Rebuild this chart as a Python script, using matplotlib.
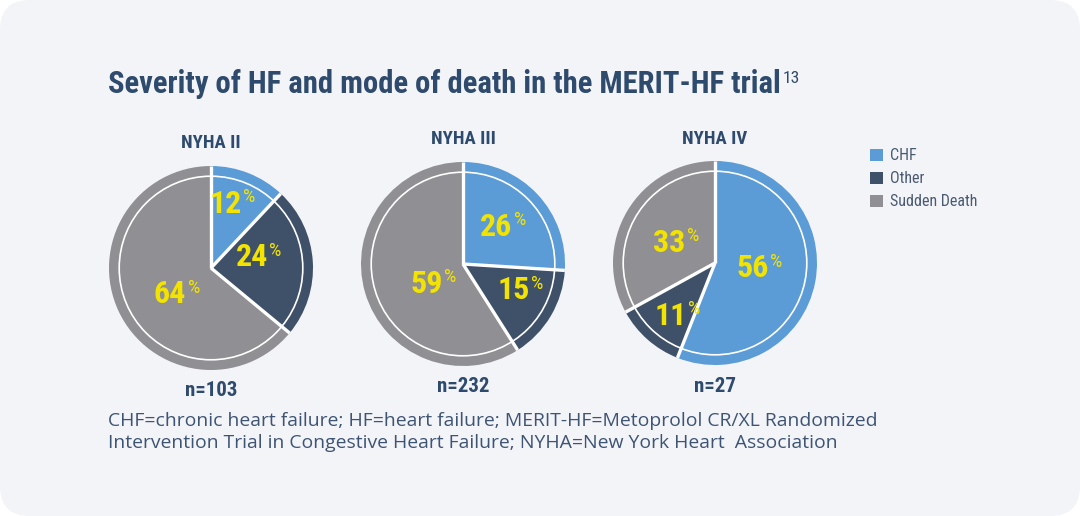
"""MERIT-HF mode of death by NYHA class: three pies on a rounded panel."""
import numpy as np
import matplotlib
matplotlib.use("Agg")
import matplotlib.pyplot as plt
from matplotlib import font_manager
from matplotlib.patches import FancyBboxPatch, Circle, Patch

# ---------------------------------------------------------------- data
groups = ["NYHA II", "NYHA III", "NYHA IV"]
n_patients = [103, 232, 27]
causes = ["CHF", "Other", "Sudden Death"]
chf = [12, 26, 56]
other = [24, 15, 11]
sudden = [64, 59, 33]

TITLE = "Severity of HF and mode of death in the MERIT-HF trial"
TITLE_REF = "13"
FOOT = ("CHF=chronic heart failure; HF=heart failure; MERIT-HF=Metoprolol CR/XL Randomized\n"
        "Intervention Trial in Congestive Heart Failure; NYHA=New York Heart  Association")

# ---------------------------------------------------------------- style
W, H = 1080, 516
PANEL_C = "#f3f4f8"
NAVY = "#2e4a6c"
COLORS = ["#5b9bd6", "#3f5069", "#8f8f94"]
YELLOW = "#f3e300"

_names = {f.name for f in font_manager.fontManager.ttflist}
_dv_cond = any(f.name == "DejaVu Sans" and f.stretch == "condensed"
               for f in font_manager.fontManager.ttflist)
if "Roboto Condensed" in _names:
    COND, STRETCH = "Roboto Condensed", "normal"
elif "Liberation Sans Narrow" in _names:
    COND, STRETCH = "Liberation Sans Narrow", "normal"
elif _dv_cond:
    COND, STRETCH = "DejaVu Sans", "condensed"
else:
    COND, STRETCH = "Roboto", "normal"
FOOT_FONT = "Open Sans" if "Open Sans" in _names else "DejaVu Sans"

# pie centres / radius in pixels (y measured from top)
CENTERS = [(211, 268), (463, 264), (715, 263)]
RADIUS = 102
HEAD_Y = [143, 139, 139]
N_Y = [390, 386, 386]
# label placement: (angle deg, fraction of radius) per wedge
LABEL_POS = [
    [(72, 0.66), (13, 0.47), (-143, 0.43)],
    [(43.5, 0.53), (-25, 0.61), (-147, 0.36)],
    [(-7, 0.43), (-126, 0.64), (153, 0.44)],
]

fig = plt.figure(figsize=(W / 100, H / 100), dpi=100, facecolor="white")
ax = fig.add_axes([0, 0, 1, 1])
ax.add_patch(FancyBboxPatch((0, 0), W, H, boxstyle="round,pad=0,rounding_size=30",
                            fc=PANEL_C, ec="none", zorder=0))
renderer = fig.canvas.get_renderer()


def py(y):
    return H - y


def fit(text, width_px, max_size):
    """shrink a text so that it is no wider than width_px"""
    w = text.get_window_extent(renderer).width
    text.set_fontsize(min(max_size, text.get_fontsize() * width_px / w))


def cond_text(x, y, s, size, **kw):
    return ax.text(x, py(y), s, fontsize=size, family=COND, fontstretch=STRETCH, **kw)


def pct_label(x, y, value):
    t = cond_text(x - 6, y, f"{value}", 23, ha="center", va="center",
                  fontweight="bold", color=YELLOW, zorder=5)
    ax.annotate("%", xy=(1.0, 1.02), xycoords=t, xytext=(1, 0), textcoords="offset points",
                ha="left", va="top", fontsize=14, family=COND, fontstretch=STRETCH,
                color=YELLOW, zorder=5)


for i, g in enumerate(groups):
    cx, cy = CENTERS[i]
    vals = [chf[i], other[i], sudden[i]]
    wedges, _ = ax.pie(vals, colors=COLORS, startangle=90, counterclock=False,
                       center=(cx, py(cy)), radius=RADIUS, frame=True,
                       wedgeprops=dict(linewidth=0))
    # white separators between wedges only (no outer rim)
    for w in wedges:
        a = np.deg2rad(w.theta1)
        ax.plot([cx, cx + RADIUS * np.cos(a)], [py(cy), py(cy) + RADIUS * np.sin(a)],
                color="white", lw=2.4, solid_capstyle="butt", zorder=3)
    ax.add_patch(Circle((cx, py(cy)), RADIUS * 0.9, fill=False, ec="white",
                        lw=1.2, zorder=4))
    for v, (ang, frac) in zip(vals, LABEL_POS[i]):
        a = np.deg2rad(ang)
        pct_label(cx + frac * RADIUS * np.cos(a), cy - frac * RADIUS * np.sin(a), v)
    cond_text(cx, HEAD_Y[i], g, 13.5, ha="center", va="center",
              fontweight="bold", color=NAVY)
    cond_text(cx, N_Y[i], f"n={n_patients[i]}", 15, ha="center", va="center",
              fontweight="bold", color=NAVY)

ax.set_xlim(0, W)
ax.set_ylim(0, H)
ax.set_aspect("equal")
ax.axis("off")

# title with superscript reference
t = cond_text(108, 84, TITLE, 24, ha="left", va="center",
              fontweight="bold", color=NAVY)
fit(t, 676, 24)
ax.annotate(TITLE_REF, xy=(1.0, 0.93), xycoords=t, xytext=(1, 0),
            textcoords="offset points", ha="left", va="top", fontsize=12.5,
            family=COND, fontstretch=STRETCH, color=NAVY)

# legend
handles = [Patch(fc=c, ec="none") for c in COLORS]
ax.legend(handles, causes, loc="upper left", bbox_to_anchor=(864 / W, py(142) / H),
          frameon=False, handlelength=0.8, handleheight=0.8, handletextpad=0.45,
          labelspacing=0.5, borderaxespad=0,
          prop=dict(family=COND, stretch=STRETCH, size=11.5), labelcolor="#4a5a73")

# footnote
ft = ax.text(108, py(432), FOOT, ha="left", va="center", fontsize=13,
             family=FOOT_FONT, color="#3e5473", linespacing=1.3)
fit(ft, 765, 14)

fig.savefig("out.png", dpi=100, facecolor="white")
